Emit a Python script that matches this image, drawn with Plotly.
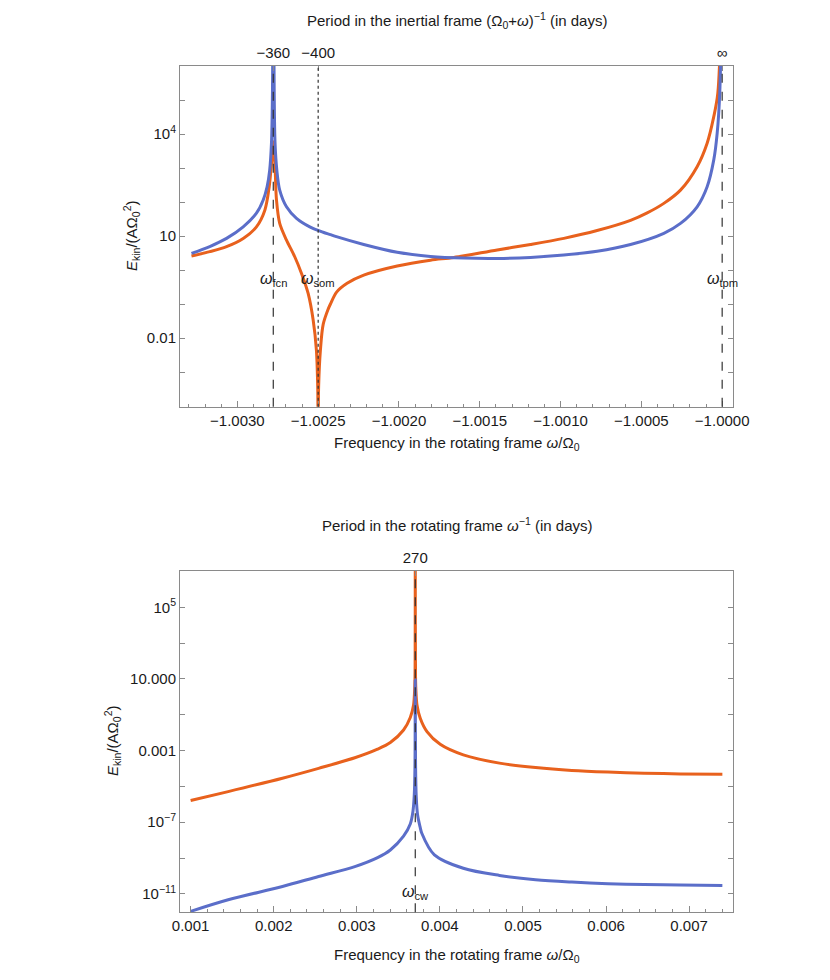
import numpy as np
import plotly.graph_objects as go

# ---------------------------------------------------------
# Data (frequency w/Omega_0, log10 of E_kin/(A Omega_0^2))
# ---------------------------------------------------------
# top panel, blue curve
top_w_blue = [-1.003284, -1.003171, -1.003067, -1.002964, -1.002882, -1.002840,
              -1.002816, -1.002800, -1.002789, -1.002783, -1.0027778, -1.002772,
              -1.0027668, -1.0027558, -1.002738, -1.002696, -1.002634, -1.002552,
              -1.002469, -1.002424, -1.002387, -1.002218, -1.002011, -1.001805,
              -1.001599, -1.001392, -1.001186, -1.000980, -1.000774, -1.000567,
              -1.000361, -1.000258, -1.000155, -1.000093, -1.000052, -1.000031,
              -1.000015, -1.0]
top_logE_blue = [0.49, 0.69, 0.93, 1.27, 1.67, 2.06,
                 2.45, 2.94, 3.73, 5.2, 9.0, 5.2,
                 3.73, 2.94, 2.35, 1.86, 1.52, 1.27,
                 1.11, 1.04, 0.98, 0.75, 0.52, 0.40,
                 0.35, 0.34, 0.37, 0.44, 0.55, 0.75,
                 1.08, 1.37, 1.86, 2.45, 3.24, 4.02,
                 5.2, 9.0]

# top panel, orange curve
top_w_orange = [-1.003284, -1.003171, -1.003067, -1.002964, -1.002882, -1.002830,
                -1.002803, -1.002789, -1.0027778, -1.002766, -1.002758, -1.002738,
                -1.002696, -1.002645, -1.002603, -1.002562, -1.002531, -1.002511,
                -1.002503, -1.0025012, -1.0025, -1.0024988, -1.002497, -1.002486,
                -1.002469, -1.002438, -1.002424, -1.002386, -1.002321, -1.002218,
                -1.002011, -1.001805, -1.001661, -1.001392, -1.001186, -1.000980,
                -1.000774, -1.000567, -1.000464, -1.000361, -1.000258, -1.000155,
                -1.000093, -1.000052, -1.000027, -1.0]
top_logE_orange = [0.41, 0.54, 0.69, 0.93, 1.27, 1.76,
                   2.45, 3.14, 3.77, 2.94, 2.06, 1.37,
                   0.88, 0.39, -0.10, -0.69, -1.47, -2.35,
                   -3.4, -4.2, -8.0, -4.2, -3.4, -2.35,
                   -1.6, -1.15, -1.0, -0.65, -0.39, -0.15,
                   0.12, 0.29, 0.37, 0.59, 0.75, 0.93,
                   1.16, 1.46, 1.68, 1.96, 2.35, 3.04,
                   3.73, 4.51, 5.2, 9.0]

# bottom panel, orange curve
bot_w_orange = [0.001, 0.001452, 0.002105, 0.002540, 0.002976, 0.00325,
                0.0034037, 0.0035627, 0.0036437, 0.0036831, 0.0036952, 0.0037007,
                0.0037037, 0.0037067, 0.0037122, 0.0037243, 0.0037637, 0.0038447,
                0.0040037, 0.004282, 0.004717, 0.005152, 0.005588, 0.006023,
                0.006458, 0.006894, 0.0074]
bot_logE_orange = [-5.79, -5.29, -4.54, -3.99, -3.40, -2.92,
                   -2.55, -1.85, -1.15, -0.45, 0.29, 1.2,
                   8.0, 1.2, 0.29, -0.45, -1.19, -1.94,
                   -2.65, -3.24, -3.70, -3.95, -4.11, -4.20,
                   -4.26, -4.30, -4.32]

# bottom panel, blue curve
bot_w_blue = [0.001, 0.001452, 0.002105, 0.002540, 0.002976, 0.00325,
              0.0034037, 0.0035627, 0.0036437, 0.0036757, 0.0036917, 0.0037001,
              0.0037037, 0.0037073, 0.0037157, 0.0037317, 0.0037637, 0.003781,
              0.003934, 0.004282, 0.004717, 0.005152, 0.005588, 0.006023,
              0.006458, 0.006894, 0.0074]
bot_logE_blue = [-11.98, -11.33, -10.59, -10.03, -9.48, -8.98,
                 -8.55, -7.78, -7.10, -6.4, -5.47, -3.8,
                 0.94, -3.8, -5.6, -6.6, -7.3, -7.6,
                 -8.82, -9.57, -9.97, -10.21, -10.34, -10.43,
                 -10.48, -10.51, -10.53]

# resonance frequencies and their labels
top_marks = [-1.0027778, -1.0025, -1.0]
top_mark_labels = ["fcn", "som", "tpm"]
top_mark_dash = ["dash", "dot", "dash"]
top_period_labels = ["\u2212360", "\u2212400", "\u221e"]

bot_marks = [0.0037037]
bot_mark_labels = ["cw"]
bot_period_labels = ["270"]

# y tick labels (log axes)
top_ytick_exp = [-3, -2, -1, 0, 1, 2, 3, 4, 5]
top_ytick_text = ["", "0.01", "", "", "10", "", "", "10<sup>4</sup>", ""]
bot_ytick_exp = [-11, -9, -7, -5, -3, -1, 1, 3, 5]
bot_ytick_text = ["10<sup>\u221211</sup>", "", "10<sup>\u22127</sup>", "", "0.001", "",
                  "10.000", "", "10<sup>5</sup>"]

BLUE = "#5b6ec9"
ORANGE = "#e8611d"
FRAME = "#8a8a8a"
TXT = "#1a1a1a"
FONT = "Liberation Sans"
FS = 15

W, H = 822, 972      # page has an 8px body margin


def px(xp):
    return (xp - 8) / W


def py(yp):
    return 1 - (yp - 8) / H


# ---------------------------------------------------------
# Figure
# ---------------------------------------------------------
fig = go.Figure()

curve_style = dict(mode="lines", showlegend=False, hoverinfo="skip")
fig.add_trace(go.Scatter(x=top_w_orange, y=np.power(10.0, top_logE_orange),
                         line=dict(color=ORANGE, width=3, shape="spline", smoothing=0.9),
                         xaxis="x", yaxis="y", **curve_style))
fig.add_trace(go.Scatter(x=top_w_blue, y=np.power(10.0, top_logE_blue),
                         line=dict(color=BLUE, width=3, shape="spline", smoothing=0.9),
                         xaxis="x", yaxis="y", **curve_style))
fig.add_trace(go.Scatter(x=bot_w_orange, y=np.power(10.0, bot_logE_orange),
                         line=dict(color=ORANGE, width=3, shape="spline", smoothing=0.9),
                         xaxis="x2", yaxis="y2", **curve_style))
fig.add_trace(go.Scatter(x=bot_w_blue, y=np.power(10.0, bot_logE_blue),
                         line=dict(color=BLUE, width=3, shape="spline", smoothing=0.9),
                         xaxis="x2", yaxis="y2", **curve_style))

# invisible traces so the top (period) axes get drawn
fig.add_trace(go.Scatter(x=top_marks, y=[1, 1, 1], xaxis="x3", yaxis="y",
                         mode="markers", marker=dict(opacity=0), showlegend=False,
                         hoverinfo="skip"))
fig.add_trace(go.Scatter(x=bot_marks, y=[1], xaxis="x4", yaxis="y2",
                         mode="markers", marker=dict(opacity=0), showlegend=False,
                         hoverinfo="skip"))

# vertical marker lines + omega labels
for w, lab, d in zip(top_marks, top_mark_labels, top_mark_dash):
    fig.add_shape(type="line", xref="x", yref="y domain", x0=w, x1=w, y0=0, y1=1,
                  line=dict(color="#333333", width=1.2, dash=d))
    fig.add_annotation(x=w, y=-0.29, xref="x", yref="y", showarrow=False,
                       text=f"<i>\u03c9</i><sub>{lab}</sub>",
                       font=dict(family=FONT, size=16, color=TXT))
for w, lab in zip(bot_marks, bot_mark_labels):
    fig.add_shape(type="line", xref="x2", yref="y2 domain", x0=w, x1=w, y0=0, y1=1,
                  line=dict(color="#333333", width=1.2, dash="dash"))
    fig.add_annotation(x=w, y=-10.94, xref="x2", yref="y2", showarrow=False,
                       text=f"<i>\u03c9</i><sub>{lab}</sub>",
                       font=dict(family=FONT, size=16, color=TXT))

# titles as annotations
xmid = (px(180) + px(733)) / 2
ylab = "<i>E</i><sub>kin</sub>/(A\u03a9<sub>0</sub><sup>2</sup>)"
xlab = "Frequency in the rotating frame <i>\u03c9</i>/\u03a9<sub>0</sub>"
titles = [
    (xmid, py(20), "Period in the inertial frame (\u03a9<sub>0</sub>+<i>\u03c9</i>)<sup>\u22121</sup> (in days)", 0),
    (xmid, py(443), xlab, 0),
    (xmid, py(524), "Period in the rotating frame <i>\u03c9</i><sup>\u22121</sup> (in days)", 0),
    (xmid, py(955), xlab, 0),
    (px(132), py(236), ylab, -90),
    (px(112), py(741), ylab, -90),
]
for x, y, t, ang in titles:
    fig.add_annotation(x=x, y=y, xref="paper", yref="paper", text=t, showarrow=False,
                       textangle=ang, xanchor="center", yanchor="middle",
                       font=dict(family=FONT, size=FS, color=TXT))

tickfont = dict(family=FONT, size=FS, color=TXT)
common_x = dict(showgrid=False, zeroline=False, showline=True, linecolor=FRAME,
                linewidth=1, mirror=True, ticks="inside", ticklen=6, tickcolor=FRAME,
                tickfont=tickfont, automargin=False)
common_y = dict(type="log", showgrid=False, zeroline=False, showline=True,
                linecolor=FRAME, linewidth=1, mirror="ticks", ticks="inside",
                ticklen=5, tickcolor=FRAME, tickfont=tickfont, automargin=False)
top_axis = dict(side="top", showgrid=False, zeroline=False, showline=False,
                ticks="inside", ticklen=5, tickcolor=FRAME, tickfont=tickfont,
                ticklabelstandoff=4, automargin=False)

xdom = [px(180), px(733)]

fig.update_layout(
    width=W, height=H,
    template="none",
    paper_bgcolor="white", plot_bgcolor="white",
    margin=dict(l=0, r=0, t=0, b=0),
    font=dict(family=FONT, size=FS, color=TXT),
    showlegend=False,
    xaxis=dict(common_x, domain=xdom, anchor="y",
               range=[-1.003355, -0.999933], tick0=-1.0, dtick=0.0005,
               tickformat=".4f",
               minor=dict(ticks="inside", ticklen=3, tickcolor=FRAME,
                          tick0=-1.0, dtick=0.0001)),
    yaxis=dict(common_y, domain=[py(406.7), py(66)], anchor="x",
               range=[-4.02, 6.0],
               tickvals=[10.0 ** e for e in top_ytick_exp], ticktext=top_ytick_text),
    xaxis3=dict(top_axis, overlaying="x", anchor="y", range=[-1.003355, -0.999933],
                tickvals=top_marks, ticktext=top_period_labels),
    xaxis2=dict(common_x, domain=xdom, anchor="y2",
                range=[0.000872, 0.007528], tick0=0, dtick=0.001,
                tickformat=".3f",
                minor=dict(ticks="inside", ticklen=3, tickcolor=FRAME,
                           tick0=0, dtick=0.0002)),
    yaxis2=dict(common_y, domain=[py(912.3), py(571)], anchor="x2",
                range=[-12.03, 7.03],
                tickvals=[10.0 ** e for e in bot_ytick_exp], ticktext=bot_ytick_text),
    xaxis4=dict(top_axis, overlaying="x2", anchor="y2", range=[0.000872, 0.007528],
                tickvals=bot_marks, ticktext=bot_period_labels),
)

fig.write_html("out.html")
